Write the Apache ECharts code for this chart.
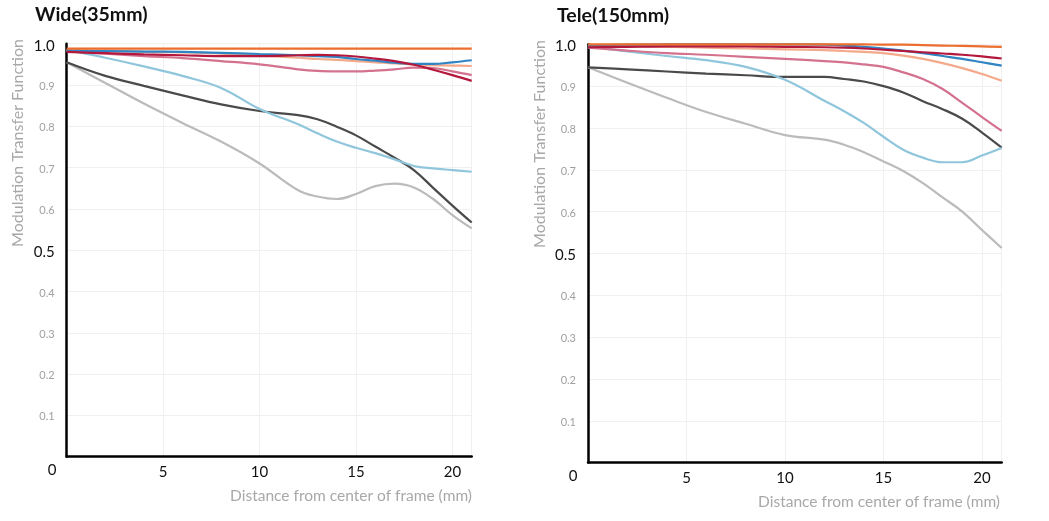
<!DOCTYPE html>
<html>
<head>
<meta charset="utf-8">
<script src="https://cdn.jsdelivr.net/npm/echarts@6/dist/echarts.min.js"></script>
<style>
html,body{margin:0;padding:0;background:#fff;}
#main{width:1049px;height:521px;}
</style>
</head>
<body>
<div id="main"></div>
<script>
// ---- data ----
const titles = ['Wide(35mm)', 'Tele(150mm)'];
const yAxisName = 'Modulation Transfer Function';
const xAxisName = 'Distance from center of frame (mm)';
const xTickLabels = [5, 10, 15, 20];
const yBoldLabels = ['0.5', '1.0'];
const seriesNames = ['Light gray', 'Dark gray', 'Light blue', 'Pink', 'Salmon', 'Blue', 'Crimson', 'Orange'];
const seriesColors = ['#bbbbbb', '#4a4a4a', '#8fc6dc', '#d4718e', '#f4a98a', '#2f84c4', '#b3183c', '#ec6d2d'];

// Wide (35mm)
const wideX = [0, 2, 4, 6, 8, 10, 12, 13, 14, 15, 16, 17, 18, 19, 20, 21];
const wideLightGray = [0.955, 0.905, 0.855, 0.808, 0.763, 0.710, 0.645, 0.630, 0.624, 0.636, 0.655, 0.661, 0.652, 0.624, 0.585, 0.553];
const wideDarkGray  = [0.955, 0.922, 0.898, 0.875, 0.853, 0.837, 0.827, 0.817, 0.799, 0.778, 0.751, 0.724, 0.694, 0.651, 0.608, 0.567];
const wideLightBlue = [0.985, 0.966, 0.945, 0.922, 0.893, 0.842, 0.805, 0.783, 0.763, 0.748, 0.735, 0.720, 0.704, 0.698, 0.694, 0.690];
const widePink      = [0.982, 0.976, 0.970, 0.965, 0.958, 0.950, 0.938, 0.934, 0.933, 0.933, 0.935, 0.938, 0.942, 0.941, 0.933, 0.924];
const wideSalmon    = [0.984, 0.983, 0.981, 0.979, 0.976, 0.971, 0.966, 0.963, 0.961, 0.958, 0.955, 0.952, 0.950, 0.948, 0.947, 0.946];
const wideBlue      = [0.983, 0.982, 0.981, 0.980, 0.978, 0.975, 0.972, 0.970, 0.968, 0.963, 0.959, 0.954, 0.951, 0.951, 0.955, 0.960];
const wideCrimson   = [0.980, 0.977, 0.974, 0.972, 0.970, 0.970, 0.972, 0.973, 0.972, 0.969, 0.964, 0.958, 0.949, 0.937, 0.924, 0.910];
const wideOrange    = [0.988, 0.988, 0.988, 0.988, 0.988, 0.988, 0.988, 0.988, 0.988, 0.988, 0.988, 0.988, 0.988, 0.988, 0.988, 0.988];

// Tele (150mm)
const teleX = [0, 2, 4, 6, 8, 10, 12, 13, 14, 15, 16, 17, 18, 19, 20, 21];
const teleLightGray = [0.945, 0.908, 0.872, 0.838, 0.810, 0.783, 0.772, 0.760, 0.742, 0.720, 0.697, 0.668, 0.634, 0.600, 0.556, 0.513];
const teleDarkGray  = [0.945, 0.940, 0.935, 0.930, 0.926, 0.922, 0.922, 0.917, 0.911, 0.900, 0.885, 0.864, 0.845, 0.822, 0.789, 0.753];
const teleLightBlue = [0.995, 0.983, 0.972, 0.962, 0.946, 0.915, 0.865, 0.840, 0.812, 0.779, 0.748, 0.729, 0.718, 0.718, 0.734, 0.752];
const telePink      = [0.992, 0.985, 0.979, 0.975, 0.970, 0.965, 0.960, 0.957, 0.952, 0.946, 0.933, 0.917, 0.893, 0.860, 0.826, 0.793];
const teleSalmon    = [0.997, 0.996, 0.994, 0.992, 0.990, 0.988, 0.986, 0.984, 0.982, 0.979, 0.973, 0.965, 0.955, 0.943, 0.929, 0.913];
const teleBlue      = [0.997, 0.999, 1.000, 1.000, 1.000, 1.000, 0.999, 0.997, 0.994, 0.990, 0.985, 0.979, 0.972, 0.965, 0.957, 0.949];
const teleCrimson   = [0.993, 0.994, 0.995, 0.995, 0.995, 0.994, 0.993, 0.992, 0.990, 0.987, 0.984, 0.981, 0.978, 0.975, 0.971, 0.966];
const teleOrange    = [1.000, 1.000, 1.000, 1.000, 1.000, 1.000, 1.000, 1.000, 1.000, 0.999, 0.999, 0.998, 0.997, 0.996, 0.995, 0.994];

const wideSeries = [wideLightGray, wideDarkGray, wideLightBlue, widePink, wideSalmon, wideBlue, wideCrimson, wideOrange];
const teleSeries = [teleLightGray, teleDarkGray, teleLightBlue, telePink, teleSalmon, teleBlue, teleCrimson, teleOrange];

// ---- chart ----
const FONT = 'Lato, "Open Sans", sans-serif';
const chart = echarts.init(document.getElementById('main'), null, {renderer: 'canvas'});

function xAxisCfg(gi) {
  return {
    type: 'value', gridIndex: gi, min: 0, max: 21, interval: 5,
    axisLine: {show: true, lineStyle: {color: '#000', width: 2.5}},
    axisTick: {show: false},
    splitLine: {show: true, lineStyle: {color: '#f0f0f0', width: 1}},
    axisLabel: {
      margin: 8, color: '#111', fontSize: 15, fontFamily: FONT,
      formatter: v => xTickLabels.indexOf(v) >= 0 ? String(v) : ''
    }
  };
}
function yAxisCfg(gi) {
  return {
    type: 'value', gridIndex: gi, min: 0, max: 1, interval: 0.1,
    axisLine: {show: true, lineStyle: {color: '#000', width: 2.5}},
    axisTick: {show: false},
    splitLine: {show: true, lineStyle: {color: '#f0f0f0', width: 1}},
    axisLabel: {
      margin: 12, fontFamily: FONT,
      formatter: v => {
        const s = v.toFixed(1);
        if (s === '0.0') return '';
        return yBoldLabels.indexOf(s) >= 0 ? '{b|' + s + '}' : '{s|' + s + '}';
      },
      rich: {
        b: {color: '#111', fontSize: 15, fontFamily: FONT, padding: [4, 0, 0, 0]},
        s: {color: '#a0a0a0', fontSize: 11, fontFamily: FONT, padding: [3, 0, 0, 0]}
      }
    }
  };
}

const series = [];
[wideSeries, teleSeries].forEach((group, gi) => {
  const xs = gi === 0 ? wideX : teleX;
  group.forEach((ys, i) => {
    series.push({
      name: seriesNames[i], type: 'line', xAxisIndex: gi, yAxisIndex: gi,
      data: xs.map((x, k) => [x, ys[k]]),
      smooth: 0.4, showSymbol: false, symbol: 'none', clip: false,
      lineStyle: {color: seriesColors[i], width: 2.2},
      itemStyle: {color: seriesColors[i]},
      z: 2 + i
    });
  });
});

const yNameStyle = {fill: '#a8a8a8', fontSize: 16, fontFamily: FONT};
const xNameStyle = {fill: '#a8a8a8', fontSize: 15.5, fontFamily: FONT};

chart.setOption({
  animation: false,
  backgroundColor: '#fff',
  title: [
    {text: titles[0], left: 35, top: 5, padding: 0, textStyle: {fontSize: 19.5, fontWeight: 'bold', color: '#111', fontFamily: FONT}},
    {text: titles[1], left: 557, top: 6, padding: 0, textStyle: {fontSize: 19.5, fontWeight: 'bold', color: '#111', fontFamily: FONT}}
  ],
  grid: [
    {left: 66.7, top: 43.7, width: 405, height: 413, containLabel: false},
    {left: 588, top: 44.3, width: 413.7, height: 418.3, containLabel: false}
  ],
  xAxis: [xAxisCfg(0), xAxisCfg(1)],
  yAxis: [yAxisCfg(0), yAxisCfg(1)],
  series: series,
  graphic: [
    {type: 'text', x: 18, y: 143, rotation: Math.PI / 2,
     style: Object.assign({text: yAxisName, align: 'center', verticalAlign: 'middle'}, yNameStyle)},
    {type: 'text', x: 540, y: 144, rotation: Math.PI / 2,
     style: Object.assign({text: yAxisName, align: 'center', verticalAlign: 'middle'}, yNameStyle)},
    {type: 'text', x: 472, y: 496,
     style: Object.assign({text: xAxisName, align: 'right', verticalAlign: 'middle'}, xNameStyle)},
    {type: 'text', x: 1000, y: 502,
     style: Object.assign({text: xAxisName, align: 'right', verticalAlign: 'middle'}, xNameStyle)},
    {type: 'text', x: 52, y: 470,
     style: {text: '0', align: 'center', verticalAlign: 'middle', fill: '#111', fontSize: 15, fontFamily: FONT}},
    {type: 'text', x: 573, y: 476,
     style: {text: '0', align: 'center', verticalAlign: 'middle', fill: '#111', fontSize: 15, fontFamily: FONT}}
  ]
});
</script>
</body>
</html>
